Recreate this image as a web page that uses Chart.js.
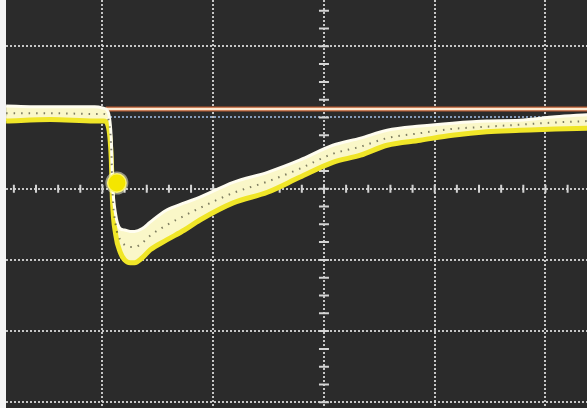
<!DOCTYPE html>
<html>
<head>
<meta charset="utf-8">
<script src="https://cdn.jsdelivr.net/npm/chart.js@4"></script>
<style>
  body { margin: 0; background: #f4f4f4; }
  #wrap { position: absolute; left: 6px; top: 0; width: 581px; height: 408px; background: #2b2b2b; }
</style>
</head>
<body>
<div id="wrap"><canvas id="scope"></canvas></div>
<script>
// time axis in divisions, volts in divisions (centre = 0)
var timeDiv = [-2.87, -2.47, -2.07, -1.99, -1.95, -1.92, -1.91, -1.88, -1.84, -1.80, -1.75, -1.71, -1.64, -1.57,
    -1.42, -1.26, -1.12, -0.82, -0.51, -0.22, 0.08, 0.33, 0.57, 0.87, 1.16, 1.47, 1.77, 2.09, 2.38];
var traceUpper = [1.16, 1.15, 1.15, 1.13, 1.08, 0.68, 0.12, -0.37, -0.56, -0.58, -0.60, -0.60, -0.56, -0.47,
    -0.30, -0.20, -0.12, 0.09, 0.23, 0.40, 0.61, 0.71, 0.82, 0.88, 0.92, 0.95, 0.96, 1.01, 1.04];
var traceMid = [1.06, 1.06, 1.05, 1.05, 0.99, 0.54, -0.02, -0.51, -0.72, -0.79, -0.82, -0.82, -0.76, -0.66,
    -0.51, -0.38, -0.27, -0.06, 0.10, 0.28, 0.49, 0.59, 0.71, 0.78, 0.84, 0.87, 0.90, 0.93, 0.95];
var traceLower = [0.95, 0.97, 0.95, 0.95, 0.89, 0.40, -0.16, -0.65, -0.89, -1.00, -1.04, -1.04, -0.97, -0.86,
    -0.72, -0.58, -0.44, -0.20, -0.05, 0.16, 0.37, 0.47, 0.61, 0.68, 0.75, 0.80, 0.82, 0.84, 0.85];
var refX = [-1.97, 2.38];
var refY = [1.12, 1.12];
var markerX = [-1.87];
var markerY = [0.08];

function pts(xs, ys) {
    return xs.map(function (x, i) { return { x: x, y: ys[i] }; });
}

// small graticule ticks on the centre axes
var centreTicks = {
    id: "centreTicks",
    beforeDatasetsDraw: function (chart) {
        var c = chart.ctx, xs = chart.scales.x, ys = chart.scales.y;
        var x0 = xs.getPixelForValue(0), y0 = ys.getPixelForValue(0);
        c.save();
        c.strokeStyle = "#d4d4d4";
        c.lineWidth = 2;
        c.beginPath();
        for (var v = -3; v <= 3; v += 0.25) {
            var py = ys.getPixelForValue(v);
            c.moveTo(x0 - 5, py); c.lineTo(x0 + 5, py);
        }
        for (var h = -3; h <= 3; h += 0.2) {
            var px = xs.getPixelForValue(h);
            c.moveTo(px, y0 - 4); c.lineTo(px, y0 + 4);
        }
        c.stroke();
        c.restore();
    }
};

function gridOpts() {
    return {
        color: function (ctx) { return ctx.tick && ctx.tick.value === 1 && ctx.scale.axis === "y" ? "rgba(150,175,210,0.85)" : "rgba(215,215,215,0.9)"; },
        lineWidth: 2,
        drawTicks: false
    };
}

// "order": lower numbers are drawn on top
new Chart("scope", {
    type: "scatter",
    data: {
        datasets: [{
            data: pts(refX, refY),
            showLine: true,
            borderColor: "#b85a30",
            borderWidth: 5,
            pointRadius: 0,
            order: 6
        }, {
            data: pts(refX, refY),
            showLine: true,
            borderColor: "#fdebd3",
            borderWidth: 2.5,
            pointRadius: 0,
            order: 5
        }, {
            data: pts(timeDiv, traceUpper),
            showLine: true,
            borderColor: "#fffdf0",
            borderWidth: 3,
            pointRadius: 0,
            cubicInterpolationMode: "monotone",
            order: 3
        }, {
            data: pts(timeDiv, traceLower),
            showLine: true,
            borderColor: "#f0e628",
            borderWidth: 5,
            pointRadius: 0,
            cubicInterpolationMode: "monotone",
            fill: "-1",
            backgroundColor: "#faf7c8",
            order: 4
        }, {
            data: pts(timeDiv, traceMid),
            showLine: true,
            borderColor: "rgba(60,60,40,0.65)",
            borderWidth: 2,
            borderDash: [1.5, 6],
            pointRadius: 0,
            cubicInterpolationMode: "monotone",
            order: 2
        }, {
            data: pts(markerX, markerY),
            pointRadius: 10,
            pointBackgroundColor: "#f4e600",
            pointBorderColor: "rgba(255,255,225,0.5)",
            pointBorderWidth: 3,
            order: 1
        }]
    },
    options: {
        responsive: true,
        maintainAspectRatio: false,
        animation: false,
        layout: { padding: 0, autoPadding: false },
        plugins: { legend: { display: false }, tooltip: { enabled: false } },
        scales: {
            x: {
                type: "linear", min: -2.871, max: 2.375,
                ticks: { display: false, stepSize: 1, includeBounds: false },
                grid: gridOpts(),
                border: { display: false, dash: [2, 2] }
            },
            y: {
                type: "linear", min: -3.08, max: 2.65,
                ticks: { display: false, stepSize: 1, includeBounds: false },
                grid: gridOpts(),
                border: { display: false, dash: [2, 2] }
            }
        }
    },
    plugins: [centreTicks]
});
</script>
</body>
</html>
